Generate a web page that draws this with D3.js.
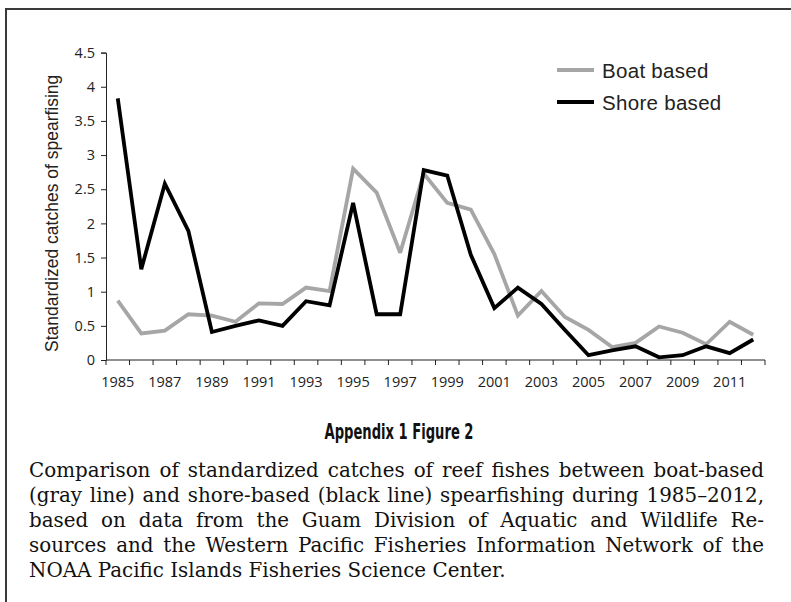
<!DOCTYPE html>
<html>
<head>
<meta charset="utf-8">
<script src="https://cdn.jsdelivr.net/npm/d3@7"></script>
<style>
  html, body { margin: 0; padding: 0; background: #fff; }
  svg { display: block; }
</style>
</head>
<body>
<svg id="chart" width="791" height="602"></svg>
<script>
// Standardized catches of spearfishing on Guam, 1985–2012
const years = d3.range(1985, 2013);
const boatBased = [0.87, 0.39, 0.43, 0.67, 0.65, 0.56, 0.83, 0.82, 1.06, 1.01,
                   2.80, 2.45, 1.57, 2.73, 2.30, 2.20, 1.55, 0.65, 1.01, 0.63,
                   0.44, 0.19, 0.25, 0.49, 0.40, 0.23, 0.56, 0.37];
const shoreBased = [3.83, 1.33, 2.58, 1.89, 0.41, 0.50, 0.58, 0.50, 0.86, 0.80,
                    2.30, 0.67, 0.67, 2.78, 2.70, 1.54, 0.76, 1.06, 0.82, 0.44,
                    0.07, 0.14, 0.20, 0.04, 0.07, 0.20, 0.10, 0.30];
const yTicks = [0, 0.5, 1, 1.5, 2, 2.5, 3, 3.5, 4, 4.5];
const xLabelYears = years.filter(y => (y - 1985) % 2 === 0);
const seriesNames = ["Boat based", "Shore based"];
const seriesColors = ["#a6a6a6", "#000000"];

const titleText = "Appendix 1 Figure 2";
const captionLines = [
  "Comparison of standardized catches of reef fishes between boat-based",
  "(gray line) and shore-based (black line) spearfishing during 1985\u20132012,",
  "based on data from the Guam Division of Aquatic and Wildlife Re-",
  "sources and the Western Pacific Fisheries Information Network of the",
  "NOAA Pacific Islands Fisheries Science Center."
];

const svg = d3.select("#chart");
svg.append("rect").attr("width", 791).attr("height", 602).attr("fill", "#fff");

// frame around the figure (open to the right and bottom)
svg.append("path")
  .attr("d", "M6,602 L6,9 L791,9")
  .attr("fill", "none")
  .attr("stroke", "#3a3a3a")
  .attr("stroke-width", 2);

const plot = { left: 106, right: 765, top: 52.6, bottom: 360 };

const x = d3.scaleBand().domain(years).range([plot.left, plot.right]).padding(0);
const y = d3.scaleLinear().domain([0, 4.5]).range([plot.bottom, plot.top]);
const cx = d => x(d) + x.bandwidth() / 2;

const tickFont = "'Open Sans', Lato, sans-serif";

// y axis
const yAxis = svg.append("g")
  .attr("transform", `translate(${plot.left},0)`)
  .call(d3.axisLeft(y).tickValues(yTicks).tickSize(5).tickPadding(6)
        .tickFormat(d3.format("")));
yAxis.selectAll("text").attr("font-family", tickFont).attr("font-size", 14.5).attr("fill", "#222");
yAxis.select(".domain").attr("stroke", "#222");
yAxis.selectAll(".tick line").attr("stroke", "#222");

// x axis: tick marks on band edges, labels on every other year
const xAxisG = svg.append("g").attr("transform", `translate(0,${plot.bottom})`);
xAxisG.append("line")
  .attr("x1", plot.left).attr("x2", plot.right)
  .attr("stroke", "#222");
const edges = years.map(d => x(d)).concat([plot.right]);
xAxisG.selectAll("line.tick").data(edges).join("line")
  .attr("class", "tick")
  .attr("x1", d => d).attr("x2", d => d)
  .attr("y1", 0).attr("y2", 5)
  .attr("stroke", "#222");
xAxisG.selectAll("text").data(xLabelYears).join("text")
  .attr("x", d => cx(d))
  .attr("y", 27)
  .attr("text-anchor", "middle")
  .attr("font-family", tickFont)
  .attr("font-size", 14.5)
  .attr("fill", "#222")
  .text(d => d);

// y axis title
svg.append("text")
  .attr("transform", `translate(52,${(plot.top + plot.bottom) / 2 + 7}) rotate(-90)`)
  .attr("text-anchor", "middle")
  .attr("dominant-baseline", "central")
  .attr("font-family", "'Liberation Sans', Arial, sans-serif")
  .attr("font-size", 17.5)
  .attr("fill", "#222")
  .text("Standardized catches of spearfising");

// series lines
const line = d3.line().x((d, i) => cx(years[i])).y(d => y(d));
[boatBased, shoreBased].forEach((vals, k) => {
  svg.append("path")
    .datum(vals)
    .attr("d", line)
    .attr("fill", "none")
    .attr("stroke", seriesColors[k])
    .attr("stroke-width", 3.8)
    .attr("stroke-linejoin", "miter")
    .attr("stroke-miterlimit", 3);
});

// legend
const legend = svg.append("g").attr("transform", "translate(557,70)");
seriesNames.forEach((name, k) => {
  const g = legend.append("g").attr("transform", `translate(0,${k * 32})`);
  g.append("line").attr("x1", 0).attr("x2", 37)
    .attr("stroke", seriesColors[k]).attr("stroke-width", 3.8);
  g.append("text").attr("x", 45).attr("y", 0)
    .attr("dominant-baseline", "central")
    .attr("font-family", "'Liberation Sans', Arial, sans-serif")
    .attr("font-size", 20.5)
    .attr("letter-spacing", 0.3)
    .attr("fill", "#222")
    .text(name);
});

// figure title
svg.append("text")
  .attr("x", 399).attr("y", 439)
  .attr("text-anchor", "middle")
  .attr("font-family", "'Liberation Sans Narrow', 'DejaVu Sans Condensed', Roboto, sans-serif")
  .attr("font-weight", "bold")
  .attr("font-size", 22)
  .attr("textLength", 149)
  .attr("lengthAdjust", "spacingAndGlyphs")
  .attr("fill", "#111")
  .text(titleText);

// caption: justified by word spacing, last line left ragged
const capLeft = 29, capRight = 764, capTop = 477, capLead = 25;
const capWidth = capRight - capLeft;
const capFont = "'DejaVu Serif', 'Liberation Serif', serif";
const capEls = captionLines.map((t, i) => svg.append("text")
  .attr("x", capLeft).attr("y", capTop + i * capLead)
  .attr("font-family", capFont)
  .attr("font-size", 20)
  .attr("fill", "#111")
  .text(t));
// size the type so the longest justified line just fits the column
const natural = capEls.slice(0, -1).map(el => el.node().getComputedTextLength());
const fs = 20 * (capWidth * 0.985) / d3.max(natural);
capEls.forEach(el => el.attr("font-size", fs));
capEls.slice(0, -1).forEach((el, i) => {
  const w = el.node().getComputedTextLength();
  const gaps = (captionLines[i].match(/ /g) || []).length;
  el.attr("word-spacing", (capWidth - w) / gaps);
});
</script>
</body>
</html>
